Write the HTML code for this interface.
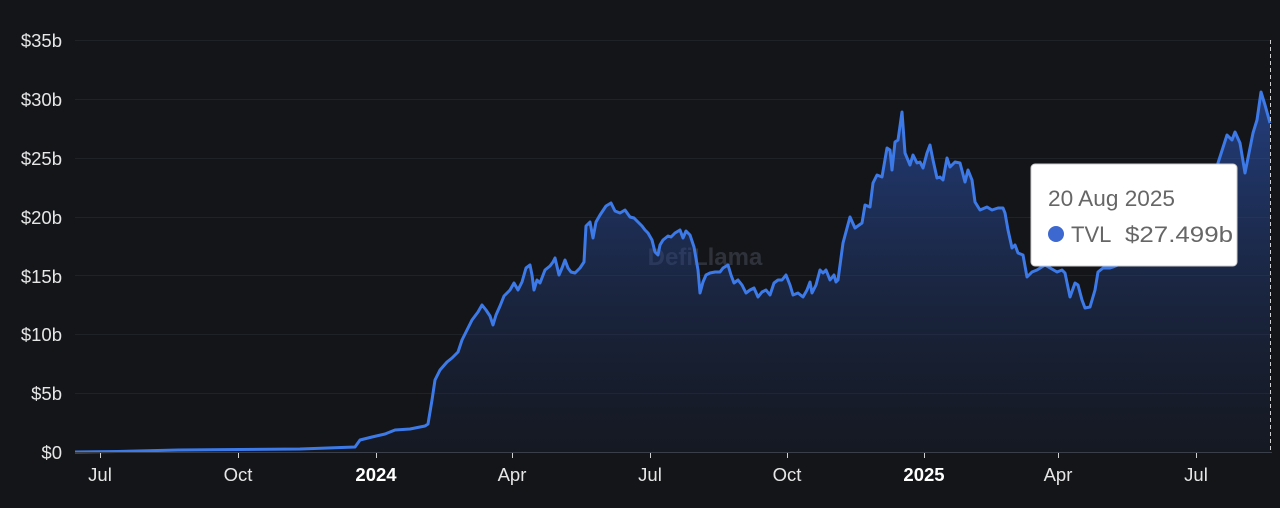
<!DOCTYPE html>
<html><head><meta charset="utf-8"><style>
html,body{margin:0;padding:0;background:#131518;}
svg{display:block;font-family:"Liberation Sans",sans-serif;}
</style></head><body>
<svg width="1280" height="508" viewBox="0 0 1280 508">
<defs><linearGradient id="g" x1="0" y1="0" x2="0" y2="1">
<stop offset="0" stop-color="#2f5bc4" stop-opacity="0.6"/>
<stop offset="1" stop-color="#1a2440" stop-opacity="0.25"/></linearGradient></defs>
<rect width="1280" height="508" fill="#131518"/>
<g stroke="#1f2227" stroke-width="1">
<line x1="75" x2="1272" y1="40.5" y2="40.5"/><line x1="75" x2="1272" y1="99.5" y2="99.5"/>
<line x1="75" x2="1272" y1="158.5" y2="158.5"/><line x1="75" x2="1272" y1="217.5" y2="217.5"/>
<line x1="75" x2="1272" y1="275.5" y2="275.5"/><line x1="75" x2="1272" y1="334.5" y2="334.5"/>
<line x1="75" x2="1272" y1="393.5" y2="393.5"/></g>
<g fill="#e6e6e6" font-size="18.5" text-anchor="end">
<text x="62" y="47">$35b</text><text x="62" y="106">$30b</text><text x="62" y="165">$25b</text>
<text x="62" y="224">$20b</text><text x="62" y="283">$15b</text><text x="62" y="341">$10b</text>
<text x="62" y="400">$5b</text><text x="62" y="459">$0</text></g>
<text x="705" y="265" fill="#5a6070" fill-opacity="0.4" font-size="24" font-weight="bold" text-anchor="middle">DefiLlama</text>
<path fill="url(#g)" d="M75,452 L118,451.5 L178,450 L300,449 L355,447 L360,440 L372,437 L385,434 L395,430 L410,429 L425,426 L428,424 L432,400 L435,380 L440,370 L447,362 L452,358 L458,352 L462,340 L467,330 L472,320 L478,312 L482,305 L486,310 L490,316 L493,325 L496,315 L500,306 L504,296 L510,290 L514,283 L518,290 L522,282 L526,268 L530,265 L532,275 L534,290 L537,280 L540,283 L545,270 L550,266 L553,262 L555,258 L559,275 L562,268 L565,260 L568,268 L571,272 L575,273 L580,268 L584,262 L586,226 L590,222 L593,238 L596,222 L600,215 L606,206 L611,203 L615,211 L620,213 L625,210 L630,217 L634,218 L638,222 L642,226 L645,230 L648,233 L652,240 L655,252 L658,255 L660,245 L663,240 L668,236 L671,237 L675,233 L680,230 L683,238 L686,231 L690,235 L694,247 L698,270 L700,293 L703,282 L706,275 L710,273 L715,272 L720,272 L723,268 L728,265 L731,275 L734,283 L738,280 L742,285 L746,293 L750,290 L754,288 L758,297 L762,292 L766,290 L770,295 L774,283 L778,280 L782,280 L786,275 L790,285 L793,295 L798,293 L803,297 L807,290 L810,282 L812,293 L816,285 L820,270 L823,273 L826,270 L830,280 L834,275 L836,282 L838,280 L843,243 L850,217 L855,228 L862,223 L865,205 L870,207 L873,183 L877,175 L882,177 L887,148 L890,150 L892,170 L895,142 L898,140 L902,112 L905,153 L910,165 L913,155 L917,163 L920,162 L923,168 L927,153 L930,145 L933,160 L937,178 L940,177 L943,180 L947,158 L950,167 L955,162 L960,163 L965,182 L968,170 L972,180 L975,202 L980,210 L987,207 L992,210 L998,208 L1003,208 L1005,213 L1008,230 L1012,248 L1015,245 L1018,253 L1023,255 L1027,277 L1032,272 L1037,270 L1045,265 L1057,272 L1062,270 L1065,273 L1070,297 L1075,283 L1078,285 L1082,300 L1085,308 L1090,307 L1095,290 L1098,272 L1103,268 L1110,268 L1113,267 L1130,260 L1150,250 L1170,240 L1190,225 L1210,205 L1218,163 L1227,135 L1232,140 L1235,132 L1240,143 L1245,173 L1248,158 L1253,133 L1257,120 L1261,92 L1265,105 L1270,123 L1270,452 Z"/>
<path fill="none" stroke="#3d7ae8" stroke-width="3" stroke-linejoin="round" d="M75,452 L118,451.5 L178,450 L300,449 L355,447 L360,440 L372,437 L385,434 L395,430 L410,429 L425,426 L428,424 L432,400 L435,380 L440,370 L447,362 L452,358 L458,352 L462,340 L467,330 L472,320 L478,312 L482,305 L486,310 L490,316 L493,325 L496,315 L500,306 L504,296 L510,290 L514,283 L518,290 L522,282 L526,268 L530,265 L532,275 L534,290 L537,280 L540,283 L545,270 L550,266 L553,262 L555,258 L559,275 L562,268 L565,260 L568,268 L571,272 L575,273 L580,268 L584,262 L586,226 L590,222 L593,238 L596,222 L600,215 L606,206 L611,203 L615,211 L620,213 L625,210 L630,217 L634,218 L638,222 L642,226 L645,230 L648,233 L652,240 L655,252 L658,255 L660,245 L663,240 L668,236 L671,237 L675,233 L680,230 L683,238 L686,231 L690,235 L694,247 L698,270 L700,293 L703,282 L706,275 L710,273 L715,272 L720,272 L723,268 L728,265 L731,275 L734,283 L738,280 L742,285 L746,293 L750,290 L754,288 L758,297 L762,292 L766,290 L770,295 L774,283 L778,280 L782,280 L786,275 L790,285 L793,295 L798,293 L803,297 L807,290 L810,282 L812,293 L816,285 L820,270 L823,273 L826,270 L830,280 L834,275 L836,282 L838,280 L843,243 L850,217 L855,228 L862,223 L865,205 L870,207 L873,183 L877,175 L882,177 L887,148 L890,150 L892,170 L895,142 L898,140 L902,112 L905,153 L910,165 L913,155 L917,163 L920,162 L923,168 L927,153 L930,145 L933,160 L937,178 L940,177 L943,180 L947,158 L950,167 L955,162 L960,163 L965,182 L968,170 L972,180 L975,202 L980,210 L987,207 L992,210 L998,208 L1003,208 L1005,213 L1008,230 L1012,248 L1015,245 L1018,253 L1023,255 L1027,277 L1032,272 L1037,270 L1045,265 L1057,272 L1062,270 L1065,273 L1070,297 L1075,283 L1078,285 L1082,300 L1085,308 L1090,307 L1095,290 L1098,272 L1103,268 L1110,268 L1113,267 L1130,260 L1150,250 L1170,240 L1190,225 L1210,205 L1218,163 L1227,135 L1232,140 L1235,132 L1240,143 L1245,173 L1248,158 L1253,133 L1257,120 L1261,92 L1265,105 L1270,123"/>
<line x1="75" x2="1272" y1="452.5" y2="452.5" stroke="#3a3e48"/>
<line x1="1270.5" x2="1270.5" y1="40" y2="452" stroke="#d0d0d0" stroke-dasharray="4,3"/>
<g stroke="#d0d0d0"><line x1="100.5" x2="100.5" y1="453" y2="458"/><line x1="238.5" x2="238.5" y1="453" y2="458"/><line x1="376.5" x2="376.5" y1="453" y2="458"/><line x1="512.5" x2="512.5" y1="453" y2="458"/><line x1="650.5" x2="650.5" y1="453" y2="458"/><line x1="787.5" x2="787.5" y1="453" y2="458"/><line x1="924.5" x2="924.5" y1="453" y2="458"/><line x1="1058.5" x2="1058.5" y1="453" y2="458"/><line x1="1196.5" x2="1196.5" y1="453" y2="458"/></g>
<g fill="#e6e6e6" font-size="18.5" text-anchor="middle">
<text x="100" y="481">Jul</text><text x="238" y="481">Oct</text><text x="376" y="481" font-weight="bold" fill="#fff">2024</text>
<text x="512" y="481">Apr</text><text x="650" y="481">Jul</text><text x="787" y="481">Oct</text>
<text x="924" y="481" font-weight="bold" fill="#fff">2025</text><text x="1058" y="481">Apr</text><text x="1196" y="481">Jul</text></g>
<rect x="1031" y="164" width="206" height="102" rx="4" fill="#fff" stroke="#ccc"/>
<text x="1048" y="206" font-size="22" fill="#666" textLength="127" lengthAdjust="spacingAndGlyphs">20 Aug 2025</text>
<circle cx="1056" cy="234" r="8" fill="#3d68d0"/>
<text x="1071" y="242" font-size="22" fill="#666">TVL</text>
<text x="1125" y="242" font-size="22" fill="#666" textLength="108" lengthAdjust="spacingAndGlyphs">$27.499b</text>
</svg>
</body></html>
